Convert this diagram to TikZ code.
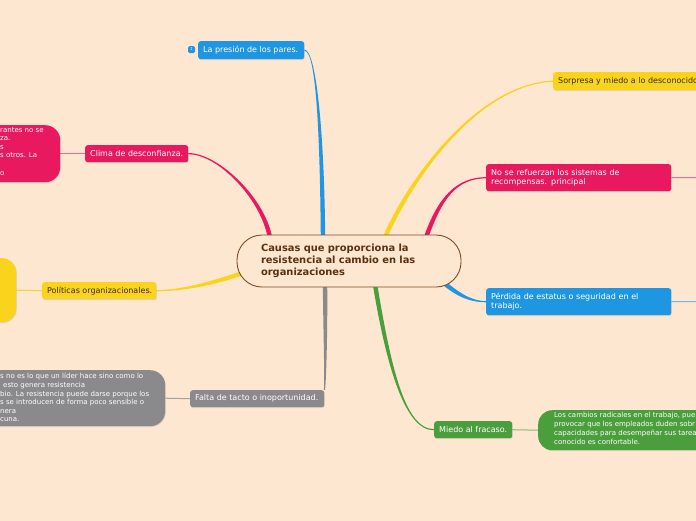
\documentclass[tikz,border=0pt]{standalone}
\usepackage{fontspec}
\setmainfont{DejaVu Sans}
\usetikzlibrary{calc,shadows,backgrounds}
\definecolor{bgc}{HTML}{FDE7D1}
\definecolor{mblue}{HTML}{1E96E2}
\definecolor{myellow}{HTML}{F9D31C}
\definecolor{mpink}{HTML}{E8195F}
\definecolor{mgreen}{HTML}{4A9E3C}
\definecolor{mgray}{HTML}{8A898C}
\definecolor{cborder}{HTML}{7B4D25}
\definecolor{ctext}{HTML}{5A3210}
\definecolor{ytext}{HTML}{3A2C05}

% tapered connector: colour, start, control 1, control 2, end, half width at start
\newcommand{\taperline}[6]{%
  \path ($(#2)!#6!90:(#3)$) coordinate (tA)
        ($(#2)!#6!-90:(#3)$) coordinate (tB)
        ($(#5)!0.6pt!-90:(#4)$) coordinate (tC)
        ($(#5)!0.6pt!90:(#4)$) coordinate (tD);
  \fill[#1] (tA) .. controls ($(#3)+(tA)-(#2)$) and ($(#4)+(tC)-(#5)$) .. (tC)
        -- (tD) .. controls ($(#4)+(tD)-(#5)$) and ($(#3)+(tB)-(#2)$) .. (tB) -- cycle;
}
% one-line topic text in a box of fixed width, left aligned
\newcommand{\oneline}[2]{\makebox[#1][l]{#2}}

\begin{document}
\begin{tikzpicture}[x=1pt,y=-1pt,
  shade1/.style={drop shadow={shadow xshift=0.6pt,shadow yshift=-0.9pt,opacity=0.22}},
  topic/.style={anchor=north west, rounded corners=2.5pt, inner xsep=5pt, inner ysep=0pt,
     align=left, font=\fontsize{8}{9}\selectfont, text=white, shade1},
  block/.style={anchor=north west, inner sep=0pt, shade1},
  btext/.style={anchor=north west, inner sep=0pt, align=left, text=white,
     font=\fontsize{7}{8.6}\selectfont},
  sub/.style={line width=1pt},
]
\useasboundingbox (0,0) rectangle (696,520);

% central topic
\node[draw=cborder, line width=0.9pt, fill=bgc, rounded corners=25pt,
      minimum width=224pt, minimum height=52pt, inner xsep=24pt, inner ysep=0pt,
      text width=176pt, align=left, text=ctext,
      font=\bfseries\fontsize{9.9}{12}\selectfont] (c) at (349,261)
  {Causas que proporciona la\\resistencia al cambio en las\\organizaciones};

% main topics
\node[topic, fill=mblue, minimum height=18pt] (pres) at (198,41) {\oneline{96pt}{La presión de los pares.}};
\node[fill=mblue, rounded corners=1.5pt, minimum size=7pt, inner sep=0pt, text=white,
      font=\fontsize{4}{4}\selectfont] (ico) at (191.5,49.5) {1};
\node[topic, fill=myellow, text=ytext, minimum height=18pt] (sorp) at (553,72) {\oneline{150pt}{Sorpresa y miedo a lo desconocido}};
\node[topic, fill=mpink, minimum height=27pt, text width=175pt] (refz) at (486,164) {No se refuerzan los sistemas de\\recompensas. principal};
\node[topic, fill=mblue, minimum height=27pt, text width=175pt] (perd) at (486,288) {Pérdida de estatus o seguridad en el\\trabajo.};
\node[topic, fill=mgreen, minimum height=17pt] (mied) at (434,421) {\oneline{68pt}{Miedo al fracaso.}};
\node[topic, fill=mgray, minimum height=17pt] (falta) at (190,390) {\oneline{124pt}{Falta de tacto o inoportunidad.}};
\node[topic, fill=myellow, text=ytext, minimum height=17pt] (pol) at (42,282) {\oneline{104pt}{Políticas organizacionales.}};
\node[topic, fill=mpink, minimum height=17pt] (clima) at (85,145) {\oneline{93pt}{Clima de desconfianza.}};

% detail blocks
\node[block, fill=mpink, rounded corners=15pt, minimum width=100pt, minimum height=57pt] (pinkb) at (-40,125) {};
\node[btext] (pinkt) at (0,127) {rantes no se\\za.\\s\\s otros. La\\\mbox{}\\o};
\node[block, fill=myellow, rounded corners=14pt, minimum width=56pt, minimum height=64pt] (yellb) at (-40,258) {};
\node[block, fill=mgray, rounded corners=15pt, minimum width=205pt, minimum height=56pt] (grayb) at (-40,370) {};
\node[btext] (grayt) at (0,373) {s no es lo que un líder hace sino como lo\\\hspace*{3pt}esto genera resistencia\\bio. La resistencia puede darse porque los\\s se introducen de forma poco sensible o\\nera\\cuna.};
\node[block, fill=mgreen, rounded corners=14pt, minimum width=200pt, minimum height=40pt] (greenb) at (538,410) {};
\node[btext, font=\fontsize{7}{9}\selectfont] (greent) at (554,412) {Los cambios radicales en el trabajo, pue\\provocar que los empleados duden sobr\\capacidades para desempeñar sus tarea\\conocido es confortable.};

\coordinate (refzend) at (700,177.5);
\coordinate (perdend) at (700,301.5);

\begin{pgfonlayer}{background}
\fill[bgc] (-50,-10) rectangle (750,530);
% start points on the central topic
\coordinate (s1) at ([xshift=-26pt,yshift=-3pt]c.north);
\coordinate (s2) at ([xshift=36pt,yshift=-3pt]c.north);
\coordinate (s3) at ([xshift=77pt,yshift=-3pt]c.north);
\coordinate (s4) at (444,283);
\coordinate (s5) at ([xshift=26pt,yshift=3pt]c.south);
\coordinate (s6) at ([xshift=-24pt,yshift=3pt]c.south);
\coordinate (s7) at (243,273);
\coordinate (s8) at ([xshift=-79pt,yshift=-3pt]c.north);

\taperline{mblue}{s1}{322,130}{316,50}{pres.east}{2.2pt}
\taperline{myellow}{s2}{412,175}{480,84}{sorp.west}{2.2pt}
\taperline{mpink}{s3}{440,198}{456,178}{refz.west}{2.2pt}
\taperline{mblue}{s4}{462,298}{474,301.5}{perd.west}{2.2pt}
\taperline{mgreen}{s5}{388,362}{404,430}{mied.west}{2.2pt}
\taperline{mgray}{s6}{325.5,330}{325.5,384}{falta.north east}{2.2pt}
\taperline{myellow}{s7}{210,284}{182,290.5}{pol.east}{2.2pt}
\taperline{mpink}{s8}{262,196}{216,153}{clima.east}{2.2pt}

% sub connectors
\draw[sub, mpink!65] (clima.west) -- (pinkb.east);
\draw[sub, mpink!65] (refz.east) -- (refzend);
\draw[sub, mblue!65] (perd.east) -- (perdend);
\draw[sub, mgreen!70] (mied.east) -- (greenb.west);
\draw[sub, mgray!80] (falta.west) -- (grayb.east);
\draw[sub, myellow] (pol.west) -- (yellb.east);
\end{pgfonlayer}
\end{tikzpicture}
\end{document}
